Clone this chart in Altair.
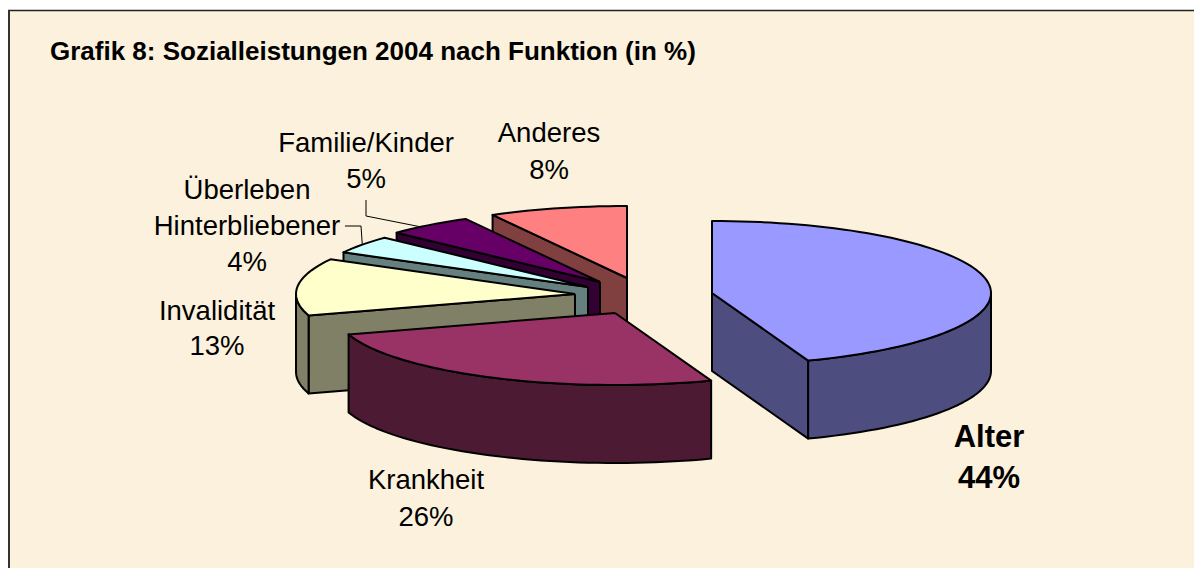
import math
import altair as alt
import pandas as pd

# Values (shares behind the rounded labels)
categories = ["Alter", "Krankheit", "Invalidität", "Überleben", "Familie", "Anderes"]
shares = [44.4, 25.8, 12.8, 4.0, 5.0, 8.0]
top_colors = ["#9999FF", "#993366", "#FFFFCC", "#CCFFFF", "#660066", "#FF8080"]
side_colors = ["#4D4D80", "#4D1A33", "#808066", "#668080", "#330033", "#804040"]
label_lines = [["Alter"], ["Krankheit"], ["Invalidität"], ["Überleben", "Hinterbliebener"], ["Familie/Kinder"], ["Anderes"]]
title_text = "Grafik 8: Sozialleistungen 2004 nach Funktion (in %)"

# Layout (page pixels)
centers = [(712, 293), (615, 313), (575, 294), (588, 287), (600, 282), (627, 278)]
label_pos = [(989, 438, 41), (426, 481, 37), (217, 312, 35), (247, 191, 36), (366, 144, 36), (549, 134, 37)]
RX, RY, DEPTH = 279, 72, 78
BG = "#FBF1DC"
W, H = 1186, 560

sx = alt.Scale(domain=[8, 8 + W], range=[0, W], nice=False, zero=False)
sy = alt.Scale(domain=[8, 8 + H], range=[0, H], nice=False, zero=False)
X = alt.X("x:Q", scale=sx, axis=None)
Y = alt.Y("y:Q", scale=sy, axis=None)


def rim(c, theta, dy=0):
    t = math.radians(theta)
    return (c[0] + RX * math.sin(t), c[1] - RY * math.cos(t) + dy)


def poly(points, fill, width=2):
    pts = list(points) + [points[0]]
    df = pd.DataFrame({"x": [p[0] for p in pts], "y": [p[1] for p in pts], "i": range(len(pts))})
    return alt.Chart(df).mark_line(fill=fill, stroke="black", strokeWidth=width, strokeJoin="round", clip=False).encode(
        x=X, y=Y, order=alt.Order("i:Q")
    )


def arc_angles(a, b):
    n = max(2, int(abs(b - a) / 2) + 1)
    return [a + (b - a) * k / n for k in range(n + 1)]


def wedge_layers(c, a, b, top, side):
    out = []
    # visible cut faces
    for th, visible in ((a, math.sin(math.radians(a)) < -1e-6), (b, math.sin(math.radians(b)) > 1e-6)):
        if visible:
            r = rim(c, th)
            out.append(poly([c, r, (r[0], r[1] + DEPTH), (c[0], c[1] + DEPTH)], side))
    # visible outer wall (front half of the ellipse)
    lo, hi = max(a, 90), min(b, 270)
    if hi > lo:
        angs = arc_angles(lo, hi)
        out.append(poly([rim(c, t) for t in angs] + [rim(c, t, DEPTH) for t in reversed(angs)], side))
    out.append(poly([c] + [rim(c, t) for t in arc_angles(a, b)], top))
    return out


bounds = []
acc = 0.0
for s in shares:
    bounds.append((acc * 3.6, (acc + s) * 3.6))
    acc += s

slices = {}
for i in range(len(categories)):
    slices[i] = wedge_layers(centers[i], bounds[i][0], bounds[i][1], top_colors[i], side_colors[i])

layers = []
# background and frame
layers.append(
    alt.Chart(pd.DataFrame({"x": [8], "x2": [8 + W], "y": [11], "y2": [8 + H]}))
    .mark_rect(color=BG)
    .encode(x=X, x2="x2:Q", y=Y, y2="y2:Q")
)
layers.append(
    alt.Chart(pd.DataFrame({"x": [8], "x2": [8 + W], "y": [10.5]}))
    .mark_rule(color="#222222", strokeWidth=1.5)
    .encode(x=X, x2="x2:Q", y=Y)
)
layers.append(
    alt.Chart(pd.DataFrame({"x": [9], "y": [10], "y2": [8 + H]}))
    .mark_rule(color="#333333", strokeWidth=2)
    .encode(x=X, y=Y, y2="y2:Q")
)

# back-to-front
for i in [5, 4, 3, 2, 1, 0]:
    layers.extend(slices[i])

# leader lines
leaders = [
    [(366, 200), (366, 216), rim(centers[4], 320)],
    [(345, 226), (361, 226), rim(centers[3], 306)],
]
for k, pts in enumerate(leaders):
    df = pd.DataFrame({"x": [p[0] for p in pts], "y": [p[1] for p in pts], "i": range(len(pts))})
    layers.append(alt.Chart(df).mark_line(color="black", strokeWidth=1).encode(x=X, y=Y, order=alt.Order("i:Q")))

# labels
rows = []
for i, name in enumerate(categories):
    lines = label_lines[i] + [f"{round(shares[i])}%"]
    x0, y0, dy = label_pos[i]
    for j, line in enumerate(lines):
        rows.append({"x": x0, "y": y0 + j * dy, "t": line, "bold": i == 0})
lab = pd.DataFrame(rows)
text = alt.Chart(lab[~lab.bold]).mark_text(
    font="Liberation Sans", fontSize=27.5, color="black", align="center", baseline="middle"
).encode(x=X, y=Y, text="t:N")
bold = alt.Chart(lab[lab.bold]).mark_text(
    font="Liberation Sans", fontSize=31, fontWeight="bold", color="black", align="center", baseline="middle"
).encode(x=X, y=Y, text="t:N")
title = alt.Chart(pd.DataFrame({"x": [50], "y": [52], "t": [title_text]})).mark_text(
    font="Liberation Sans", fontSize=26, fontWeight="bold", color="black", align="left", baseline="middle"
).encode(x=X, y=Y, text="t:N")
layers.extend([text, bold, title])

chart = (
    alt.layer(*layers)
    .properties(width=W, height=H, padding=0, autosize=alt.AutoSizeParams(type="none"), background="white")
    .configure_view(stroke=None)
)
chart.save("out.html", embed_options={"renderer": "svg", "actions": False})
